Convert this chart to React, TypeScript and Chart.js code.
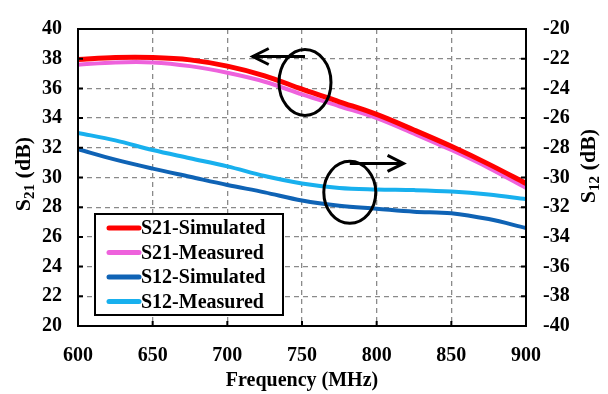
import React, { useEffect, useRef } from "react";
import { Chart, registerables } from "chart.js";
Chart.register(...registerables);

const FONT = "'Liberation Serif', 'Times New Roman', serif";

const freq = [600, 625, 650, 675, 700, 725, 750, 775, 800, 825, 850, 875, 900];
const s21Simulated = [37.95, 38.08, 38.08, 37.92, 37.5, 36.85, 35.95, 35.1, 34.25, 33.2, 32.1, 30.9, 29.6];
const s21Measured = [37.6, 37.75, 37.75, 37.5, 37.05, 36.45, 35.6, 34.8, 34.0, 32.95, 31.85, 30.65, 29.3];
const s12Simulated = [-28.1, -28.8, -29.4, -29.95, -30.5, -31.0, -31.55, -31.9, -32.1, -32.3, -32.4, -32.8, -33.4];
const s12Measured = [-27.0, -27.5, -28.15, -28.7, -29.25, -29.9, -30.4, -30.7, -30.8, -30.85, -30.95, -31.15, -31.45];

const seriesLabels = ["S21-Simulated", "S21-Measured", "S12-Simulated", "S12-Measured"];
const seriesColors = ["#FF0000", "#EE62DC", "#0F63B5", "#18B0EE"];

const xMin = 600, xMax = 900, xStep = 50;
const leftMin = 20, leftMax = 40, rightMin = -40, rightMax = -20, yStep = 2;

const toPts = (ys: number[]) => freq.map((x, i) => ({ x, y: ys[i] }));

function drawSubText(ctx: CanvasRenderingContext2D, cx: number, cy: number, main: string, sub: string, rest: string, size: number, rotate: boolean) {
  ctx.save();
  ctx.translate(cx, cy);
  if (rotate) ctx.rotate(-Math.PI / 2);
  const f1 = `bold ${size}px ${FONT}`;
  const f2 = `bold ${Math.round(size * 0.68)}px ${FONT}`;
  ctx.font = f1;
  const w1 = ctx.measureText(main).width;
  const w3 = ctx.measureText(rest).width;
  ctx.font = f2;
  const w2 = ctx.measureText(sub).width;
  let x = -(w1 + w2 + w3) / 2;
  const base = size * 0.35;
  ctx.fillStyle = "#000";
  ctx.textBaseline = "alphabetic";
  ctx.textAlign = "left";
  ctx.font = f1;
  ctx.fillText(main, x, base);
  x += w1;
  ctx.font = f2;
  ctx.fillText(sub, x, base + size * 0.18);
  x += w2;
  ctx.font = f1;
  ctx.fillText(rest, x, base);
  ctx.restore();
}

const decor = {
  id: "decor",
  afterDraw(chart: any) {
    const ctx: CanvasRenderingContext2D = chart.ctx;
    const a = chart.chartArea;
    const xs = chart.scales.x, yl = chart.scales.y, yr = chart.scales.y2;
    ctx.save();
    // inward ticks
    ctx.strokeStyle = "#000";
    ctx.lineWidth = 2;
    ctx.beginPath();
    for (let v = xMin; v <= xMax; v += xStep) {
      const px = xs.getPixelForValue(v);
      ctx.moveTo(px, a.bottom);
      ctx.lineTo(px, a.bottom - 5);
    }
    for (let v = leftMin; v <= leftMax; v += yStep) {
      const py = yl.getPixelForValue(v);
      ctx.moveTo(a.left, py);
      ctx.lineTo(a.left + 5, py);
    }
    for (let v = rightMin; v <= rightMax; v += yStep) {
      const py = yr.getPixelForValue(v);
      ctx.moveTo(a.right, py);
      ctx.lineTo(a.right - 5, py);
    }
    ctx.stroke();
    // frame
    ctx.lineWidth = 2;
    ctx.strokeRect(a.left, a.top, a.right - a.left, a.bottom - a.top);

    // ellipses and arrows
    ctx.lineWidth = 3;
    const e1x = xs.getPixelForValue(752), e1y = yl.getPixelForValue(36.4);
    ctx.beginPath();
    ctx.ellipse(e1x, e1y, 26, 33, 0, 0, Math.PI * 2);
    ctx.stroke();
    const a1y = yl.getPixelForValue(38.15);
    const a1tip = xs.getPixelForValue(717);
    ctx.beginPath();
    ctx.moveTo(e1x, a1y);
    ctx.lineTo(a1tip, a1y);
    ctx.moveTo(a1tip + 16, a1y - 8);
    ctx.lineTo(a1tip, a1y);
    ctx.lineTo(a1tip + 16, a1y + 8);
    ctx.stroke();

    const e2x = xs.getPixelForValue(782), e2y = yl.getPixelForValue(29.0);
    ctx.beginPath();
    ctx.ellipse(e2x, e2y, 26, 31, 0, 0, Math.PI * 2);
    ctx.stroke();
    const a2y = yl.getPixelForValue(30.95);
    const a2tip = xs.getPixelForValue(818);
    ctx.beginPath();
    ctx.moveTo(e2x, a2y);
    ctx.lineTo(a2tip, a2y);
    ctx.moveTo(a2tip - 16, a2y - 8);
    ctx.lineTo(a2tip, a2y);
    ctx.lineTo(a2tip - 16, a2y + 8);
    ctx.stroke();

    // legend
    const lx = a.left + 17, ly = 214, lw = 188, lh = 101;
    ctx.fillStyle = "#fff";
    ctx.fillRect(lx, ly, lw, lh);
    ctx.lineWidth = 2;
    ctx.strokeStyle = "#000";
    ctx.strokeRect(lx, ly, lw, lh);
    ctx.font = `bold 20px ${FONT}`;
    ctx.textAlign = "left";
    ctx.textBaseline = "middle";
    seriesLabels.forEach((lab, i) => {
      const ry = ly + 14 + i * 24.5;
      ctx.strokeStyle = seriesColors[i];
      ctx.lineWidth = 5;
      ctx.lineCap = "round";
      ctx.beginPath();
      ctx.moveTo(lx + 14, ry);
      ctx.lineTo(lx + 44, ry);
      ctx.stroke();
      ctx.fillStyle = "#000";
      ctx.fillText(lab, lx + 46, ry + 1);
    });
    ctx.lineCap = "butt";

    // axis titles
    drawSubText(ctx, 22, 174, "S", "21", " (dB)", 22, true);
    drawSubText(ctx, 587, 166, "S", "12", " (dB)", 22, true);
    ctx.font = `bold 20px ${FONT}`;
    ctx.fillStyle = "#000";
    ctx.textAlign = "center";
    ctx.textBaseline = "middle";
    ctx.fillText("Frequency (MHz)", (a.left + a.right) / 2, 381);
    ctx.restore();
  },
};

export default function App() {
  const ref = useRef<HTMLCanvasElement>(null);
  useEffect(() => {
    if (!ref.current) return;
    const tickFont = { family: FONT, size: 20, weight: "bold" as const };
    const gridOpts = { color: "#8a8a8a", lineWidth: 1.3, drawTicks: false };
    const chart = new Chart(ref.current, {
      type: "line",
      data: {
        datasets: [
          { label: seriesLabels[0], data: toPts(s21Simulated), borderColor: seriesColors[0], borderWidth: 5, yAxisID: "y" },
          { label: seriesLabels[1], data: toPts(s21Measured), borderColor: seriesColors[1], borderWidth: 4, yAxisID: "y" },
          { label: seriesLabels[2], data: toPts(s12Simulated), borderColor: seriesColors[2], borderWidth: 4, yAxisID: "y2" },
          { label: seriesLabels[3], data: toPts(s12Measured), borderColor: seriesColors[3], borderWidth: 4, yAxisID: "y2" },
        ],
      },
      options: {
        animation: false,
        responsive: false,
        devicePixelRatio: 1,
        elements: { point: { radius: 0 }, line: { tension: 0.35, capBezierPoints: true } },
        layout: { padding: { top: 23, left: 0, right: 0, bottom: 0 } },
        plugins: { legend: { display: false }, tooltip: { enabled: false } },
        scales: {
          x: {
            type: "linear",
            min: xMin,
            max: xMax,
            ticks: { stepSize: xStep, color: "#000", font: tickFont, padding: 18, maxRotation: 0 },
            grid: gridOpts,
            border: { display: false, dash: [5, 4] },
            afterFit: (s: any) => { s.height = 68; },
          },
          y: {
            position: "left",
            min: leftMin,
            max: leftMax,
            ticks: { stepSize: yStep, color: "#000", font: tickFont, padding: 16 },
            grid: gridOpts,
            border: { display: false, dash: [5, 4] },
            afterFit: (s: any) => { s.width = 78; },
          },
          y2: {
            position: "right",
            min: rightMin,
            max: rightMax,
            ticks: { stepSize: yStep, color: "#000", font: tickFont, padding: 17 },
            grid: { display: false, drawTicks: false },
            border: { display: false },
            afterFit: (s: any) => { s.width = 82; },
          },
        },
      },
      plugins: [decor],
    });
    return () => chart.destroy();
  }, []);
  return (
    <div style={{ position: "fixed", left: 0, top: 0, width: 608, height: 394, background: "#fff" }}>
      <canvas ref={ref} width={608} height={394} style={{ width: 608, height: 394 }} />
    </div>
  );
}
